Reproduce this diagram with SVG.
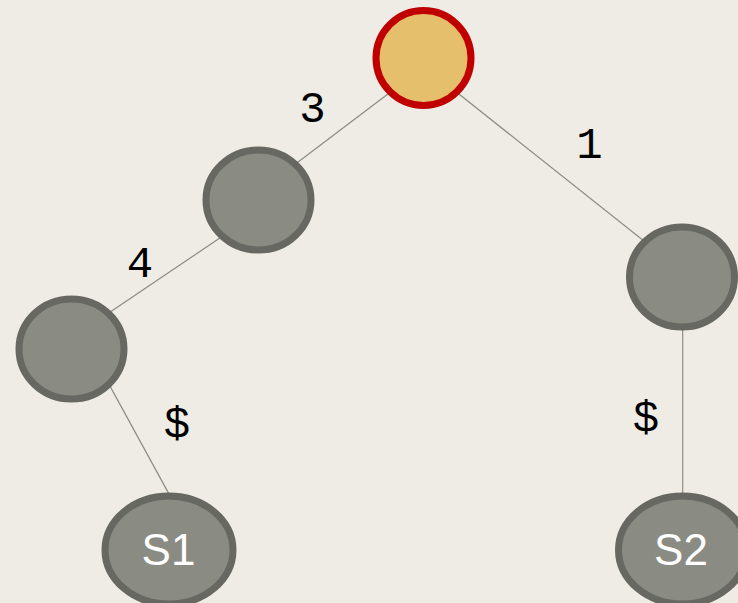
<svg xmlns="http://www.w3.org/2000/svg" width="738" height="603" viewBox="0 0 738 603">
  <style>
    .edge { stroke: #8c8c84; stroke-width: 1.2; fill: none; }
    .node { fill: #8a8b83; stroke: #686863; stroke-width: 7; }
    .root { fill: #e5bf6b; stroke: #c00000; stroke-width: 7; }
    .lbl { font-family: "Liberation Mono", "DejaVu Sans Mono", monospace; font-size: 44px; fill: #000; text-anchor: middle; }
    .leaf { font-family: "Liberation Sans", Arial, sans-serif; font-size: 44px; fill: #ffffff; text-anchor: middle; }
  </style>
  <rect width="738" height="603" fill="#eeece4"/>

  <!-- tree edges, drawn beneath the nodes -->
  <g id="edges">
    <line class="edge" x1="395.5" y1="88.3" x2="289.5" y2="168.4"/>
    <line class="edge" x1="441" y1="79.8" x2="660" y2="253.8"/>
    <line class="edge" x1="228.8" y1="231.9" x2="102.8" y2="317.1"/>
    <line class="edge" x1="105.2" y1="377.4" x2="174.8" y2="504.6"/>
    <line class="edge" x1="682.7" y1="320" x2="682.7" y2="505"/>
  </g>

  <!-- edge labels -->
  <g id="labels">
    <text class="lbl" x="312.5" y="122">3</text>
    <text class="lbl" x="589.5" y="158">1</text>
    <text class="lbl" x="140" y="277">4</text>
    <text class="lbl" x="177" y="437">$</text>
    <text class="lbl" x="646" y="431">$</text>
  </g>

  <g id="root">
    <circle class="root" cx="423.5" cy="58" r="47.5"/>
  </g>
  <g id="n-left">
    <ellipse class="node" cx="258.5" cy="200" rx="52.5" ry="50"/>
  </g>
  <g id="n-left-left">
    <ellipse class="node" cx="71.5" cy="349" rx="52.5" ry="50"/>
  </g>
  <g id="n-right">
    <ellipse class="node" cx="682" cy="277" rx="52.5" ry="50"/>
  </g>
  <g id="leaf-s1">
    <ellipse class="node" cx="169" cy="550" rx="64" ry="54"/>
    <text class="leaf" x="168.5" y="565">S1</text>
  </g>
  <g id="leaf-s2">
    <ellipse class="node" cx="682.5" cy="550" rx="64" ry="54"/>
    <text class="leaf" x="681" y="565">S2</text>
  </g>
</svg>
